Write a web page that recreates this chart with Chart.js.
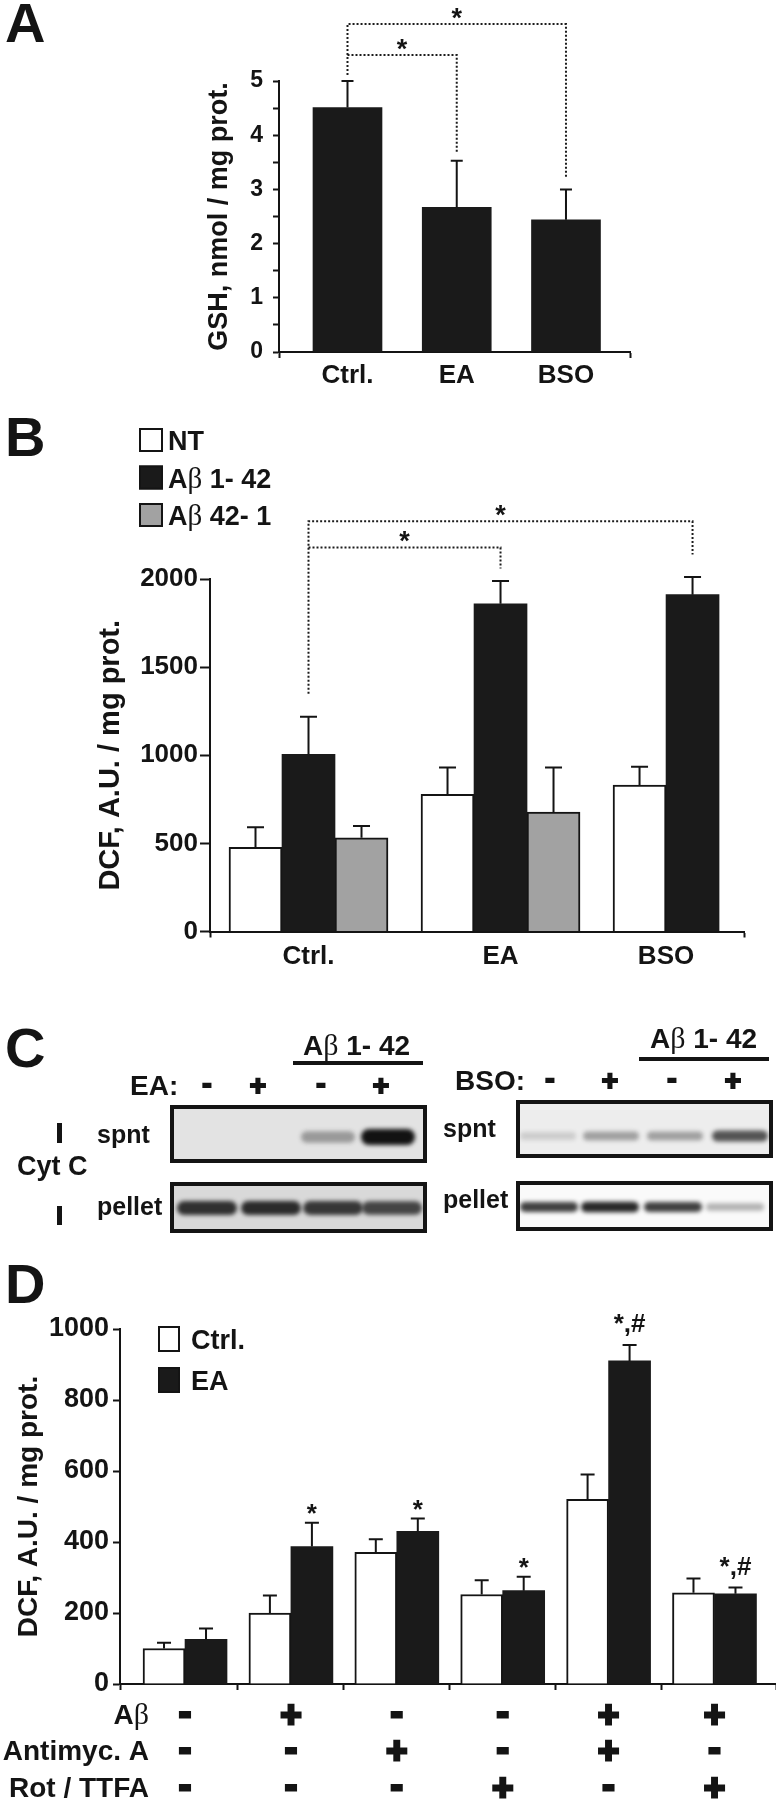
<!DOCTYPE html>
<html>
<head>
<meta charset="utf-8">
<title>GSH depletion, DCF and cytochrome c</title>
<script src="https://cdn.jsdelivr.net/npm/chart.js@4.4.1/dist/chart.umd.min.js"></script>
<style>
  html, body { margin: 0; background: #fff; }
  #fig { position: relative; width: 776px; height: 1800px; overflow: hidden; background: #fff; }
  #fig canvas { position: absolute; left: 0; }
</style>
</head>
<body>
<div id="fig">
  <canvas id="chartA" width="776" height="400" style="top:0px"></canvas>
  <canvas id="chartB" width="776" height="600" style="top:380px"></canvas>
  <canvas id="chartD" width="776" height="560" style="top:1240px"></canvas>
  <canvas id="overlay" width="776" height="1800" style="top:0px"></canvas>
</div>
<script>
// ---- panel A: GSH ----
const catsA = ['Ctrl.', 'EA', 'BSO'];
const gshMean = [4.51, 2.67, 2.44];
const gshErr = [0.49, 0.86, 0.56];
// significance brackets: category from/to, bar level, drop ends (data units)
const bracketsA = [
  {from: 1, to: 3, level: 6.05, dropFrom: 5.11, dropTo: 3.21},
  {from: 1, to: 2, level: 5.48, dropFrom: 5.48, dropTo: 3.69}
];

// ---- panel B: DCF with Abeta ----
const catsB = ['Ctrl.', 'EA', 'BSO'];
const seriesB = ['NT', 'Aβ 1- 42', 'Aβ 42- 1'];
const dcfNT = [478, 778, 831];
const dcfNTerr = [113, 153, 104];
const dcfAb142 = [1005, 1859, 1911];
const dcfAb142err = [213, 130, 100];
const dcfAb421 = [532, 678, null];
const dcfAb421err = [66, 253, null];
const bracketsB = [
  {from: 1, to: 3, level: 2327, dropFrom: 1349, dropTo: 2139},
  {from: 1, to: 2, level: 2179, dropFrom: 2179, dropTo: 2060}
];

// ---- panel C: cyt c blots (relative band intensity per lane) ----
const signsEA = ['-', '+', '-', '+'];
const signsBSO = ['-', '+', '-', '+'];
const spntEA = [0, 0, 0.35, 1];
const pelletEA = [0.85, 0.88, 0.82, 0.75];
const spntBSO = [0.15, 0.35, 0.35, 0.7];
const pelletBSO = [0.8, 0.9, 0.8, 0.3];

// ---- panel D: DCF with inhibitors ----
const seriesD = ['Ctrl.', 'EA'];
const dcfCtrl = [100, 200, 371, 252, 520, 257];
const dcfCtrlErr = [16, 49, 37, 40, 70, 40];
const dcfEA = [126, 387, 430, 263, 910, 254];
const dcfEAerr = [30, 67, 36, 39, 45, 18];
const marksEA = ['', '*', '*', '*', '*,#', '*,#'];
const rowLabels = ['Aβ', 'Antimyc. A', 'Rot / TTFA'];
const rowAb = ['-', '+', '-', '-', '+', '+'];
const rowAntimyc = ['-', '-', '+', '-', '+', '-'];
const rowRotTTFA = ['-', '-', '-', '+', '-', '+'];

const FONT = '"Liberation Sans", Arial, Helvetica, sans-serif';
const SERIF = '"Liberation Serif", "DejaVu Serif", serif';
const INK = '#141414';
const BLACK_BAR = '#1a1a1a';
const GREY_BAR = '#a2a2a2';

Chart.defaults.font.family = FONT;
Chart.defaults.font.weight = 'bold';
Chart.defaults.color = INK;
Chart.defaults.animation = false;

const toXY = arr => arr.map((v, i) => ({x: i + 1, y: v}));

// text with a thin serif beta, like the original figure
function drawRich(ctx, text, x, y, size, align) {
  const parts = text.split(/(β)/).filter(s => s.length);
  const fontFor = p => p === 'β' ? `${Math.round(size * 1.08)}px ${SERIF}` : `bold ${size}px ${FONT}`;
  let w = 0;
  parts.forEach(p => { ctx.font = fontFor(p); w += ctx.measureText(p).width; });
  let cx = align === 'right' ? x - w : align === 'center' ? x - w / 2 : x;
  ctx.textAlign = 'left';
  ctx.textBaseline = 'alphabetic';
  ctx.fillStyle = INK;
  parts.forEach(p => { ctx.font = fontFor(p); ctx.fillText(p, cx, y); cx += ctx.measureText(p).width; });
}

// chunky + / - centred on (cx, cy)
function drawSign(ctx, s, cx, cy, size, stroke) {
  ctx.font = `bold ${size}px ${FONT}`;
  ctx.textAlign = 'center';
  ctx.textBaseline = 'alphabetic';
  const m = ctx.measureText(s);
  const base = cy + (m.actualBoundingBoxAscent - m.actualBoundingBoxDescent) / 2;
  ctx.fillStyle = INK;
  ctx.strokeStyle = INK;
  ctx.lineWidth = stroke;
  ctx.lineJoin = 'miter';
  ctx.strokeText(s, cx, base);
  ctx.fillText(s, cx, base);
}

function xAxis(min, max, inner, height) {
  return {
    type: 'linear', min: min, max: max, offset: false,
    afterBuildTicks: s => { s.ticks = [min, ...inner, max].map(value => ({value})); },
    ticks: {callback: () => '', padding: 0, autoSkip: false, maxRotation: 0},
    grid: {offset: false, drawOnChartArea: false, tickLength: 6, tickWidth: 2, tickColor: INK},
    border: {display: true, color: INK, width: 2},
    afterFit: s => { s.height = height; }
  };
}

function yAxis(max, step, fmt, size, tickLen, pad, width, title, titleSize) {
  return {
    min: 0, max: max,
    ticks: {stepSize: step, callback: fmt, font: {size: size, weight: 'bold'}, padding: pad, autoSkip: false, color: INK},
    grid: {drawOnChartArea: false, tickLength: tickLen, tickWidth: 2, tickColor: INK},
    border: {color: INK, width: 2},
    title: {display: true, text: title, font: {size: titleSize, weight: 'bold'}, padding: 0, color: INK},
    afterFit: s => { s.width = width; }
  };
}

function errorBars(cap) {
  return {
    id: 'errorBars',
    afterDatasetsDraw(chart) {
      const {ctx, scales: {y}} = chart;
      ctx.save();
      ctx.strokeStyle = INK;
      ctx.lineWidth = 2;
      chart.data.datasets.forEach((ds, di) => {
        const meta = chart.getDatasetMeta(di);
        ds.data.forEach((p, i) => {
          const e = ds.errors[i];
          if (p.y == null || e == null) return;
          const bar = meta.data[i];
          const top = y.getPixelForValue(p.y + e);
          ctx.beginPath();
          ctx.moveTo(bar.x, bar.y);
          ctx.lineTo(bar.x, top);
          ctx.moveTo(bar.x - cap / 2, top);
          ctx.lineTo(bar.x + cap / 2, top);
          ctx.stroke();
        });
      });
      ctx.restore();
    }
  };
}

function brackets(items) {
  return {
    id: 'brackets',
    afterDraw(chart) {
      const {ctx, scales: {x, y}} = chart;
      ctx.save();
      items.forEach(b => {
        const x1 = x.getPixelForValue(b.from);
        const x2 = x.getPixelForValue(b.to);
        const yl = y.getPixelForValue(b.level);
        ctx.setLineDash([2, 2]);
        ctx.lineWidth = 2;
        ctx.strokeStyle = '#1c1c1c';
        ctx.beginPath();
        ctx.moveTo(x1, y.getPixelForValue(b.dropFrom));
        ctx.lineTo(x1, yl);
        ctx.lineTo(x2, yl);
        ctx.lineTo(x2, y.getPixelForValue(b.dropTo));
        ctx.stroke();
        ctx.setLineDash([]);
        ctx.font = `bold 27px ${FONT}`;
        ctx.textAlign = 'center';
        ctx.textBaseline = 'alphabetic';
        ctx.fillStyle = INK;
        const m = ctx.measureText('*');
        ctx.fillText('*', (x1 + x2) / 2, yl - 5 - m.actualBoundingBoxDescent);
      });
      ctx.restore();
    }
  };
}

function groupLabels(labels, size, dy) {
  return {
    id: 'groupLabels',
    afterDraw(chart) {
      const {ctx, chartArea} = chart;
      ctx.save();
      ctx.font = `bold ${size}px ${FONT}`;
      ctx.textAlign = 'center';
      ctx.textBaseline = 'alphabetic';
      ctx.fillStyle = INK;
      labels.forEach((lab, i) => {
        const xs = [];
        chart.data.datasets.forEach((ds, di) => {
          if (ds.data[i] && ds.data[i].y != null) xs.push(chart.getDatasetMeta(di).data[i].x);
        });
        const cx = xs.reduce((a, b) => a + b, 0) / xs.length;
        ctx.fillText(lab, cx, chartArea.bottom + dy);
      });
      ctx.restore();
    }
  };
}

function boxLegend(o) {
  return {
    id: 'boxLegend',
    afterDraw(chart) {
      const {ctx} = chart;
      ctx.save();
      chart.data.datasets.forEach((ds, i) => {
        const top = o.top + i * o.step;
        ctx.fillStyle = ds.backgroundColor;
        ctx.fillRect(o.x, top, o.w, o.h);
        ctx.strokeStyle = INK;
        ctx.lineWidth = 2;
        ctx.strokeRect(o.x + 1, top + 1, o.w - 2, o.h - 2);
        drawRich(ctx, ds.label, o.textX, top + o.base, o.size, 'left');
      });
      ctx.restore();
    }
  };
}

function barMarks(size, gap) {
  return {
    id: 'barMarks',
    afterDraw(chart) {
      const {ctx, scales: {y}} = chart;
      ctx.save();
      ctx.font = `bold ${size}px ${FONT}`;
      ctx.textAlign = 'center';
      ctx.textBaseline = 'alphabetic';
      ctx.fillStyle = INK;
      chart.data.datasets.forEach((ds, di) => {
        if (!ds.marks) return;
        const meta = chart.getDatasetMeta(di);
        ds.marks.forEach((t, i) => {
          if (!t) return;
          const top = y.getPixelForValue(ds.data[i].y + ds.errors[i]);
          const m = ctx.measureText(t);
          ctx.fillText(t, meta.data[i].x, top - gap - m.actualBoundingBoxDescent);
        });
      });
      ctx.restore();
    }
  };
}

function signTable(rows, offsets, labelRight) {
  return {
    id: 'signTable',
    afterDraw(chart) {
      const {ctx, chartArea, scales: {x}} = chart;
      ctx.save();
      rows.forEach((row, r) => {
        const cy = chartArea.bottom + offsets[r];
        drawRich(ctx, row.label, chartArea.left + labelRight, cy + 10, 28, 'right');
        row.signs.forEach((s, i) => drawSign(ctx, s, x.getPixelForValue(i + 1), cy, 36, 3));
      });
      ctx.restore();
    }
  };
}

const noUi = {legend: {display: false}, tooltip: {enabled: false}};

// ---------- A ----------
new Chart(document.getElementById('chartA'), {
  type: 'bar',
  data: {datasets: [{
    label: 'GSH', data: toXY(gshMean), errors: gshErr,
    backgroundColor: BLACK_BAR, borderWidth: 0, barThickness: 69
  }]},
  options: {
    responsive: false, events: [],
    layout: {padding: {left: 203, top: 81, right: 146, bottom: 0}},
    plugins: noUi,
    scales: {
      x: xAxis(0.373, 3.586, [], 48),
      y: yAxis(5, 0.5, v => Number.isInteger(v) ? String(v) : '', 23, 6, 10, 76, 'GSH, nmol / mg prot.', 27)
    }
  },
  plugins: [errorBars(12), brackets(bracketsA), groupLabels(catsA, 26, 31)]
});

// ---------- B ----------
new Chart(document.getElementById('chartB'), {
  type: 'bar',
  data: {datasets: [
    {label: seriesB[0], data: toXY(dcfNT), errors: dcfNTerr, backgroundColor: '#ffffff', borderColor: INK, borderWidth: 2, barThickness: 53},
    {label: seriesB[1], data: toXY(dcfAb142), errors: dcfAb142err, backgroundColor: BLACK_BAR, borderColor: INK, borderWidth: 0, barThickness: 53},
    {label: seriesB[2], data: toXY(dcfAb421), errors: dcfAb421err, backgroundColor: GREY_BAR, borderColor: INK, borderWidth: 2, barThickness: 53}
  ]},
  options: {
    responsive: false, events: [],
    layout: {padding: {left: 94, top: 199, right: 32, bottom: 0}},
    plugins: noUi,
    scales: {
      x: xAxis(0.487, 3.268, [], 48.5),
      y: yAxis(2000, 500, v => String(v), 26, 10, 2, 116, 'DCF, A.U. / mg prot.', 29)
    }
  },
  plugins: [errorBars(17), brackets(bracketsB), groupLabels(catsB, 26, 32),
    boxLegend({x: 139, top: 48, step: 37.5, w: 24, h: 24, textX: 168, base: 22, size: 27})]
});

// ---------- D ----------
new Chart(document.getElementById('chartD'), {
  type: 'bar',
  data: {datasets: [
    {label: seriesD[0], data: toXY(dcfCtrl), errors: dcfCtrlErr, backgroundColor: '#ffffff', borderColor: INK, borderWidth: 2, barThickness: 42},
    {label: seriesD[1], data: toXY(dcfEA), errors: dcfEAerr, marks: marksEA, backgroundColor: BLACK_BAR, borderColor: INK, borderWidth: 0, barThickness: 42}
  ]},
  options: {
    responsive: false, events: [],
    layout: {padding: {left: 12, top: 89, right: 0, bottom: 0}},
    plugins: noUi,
    scales: {
      x: xAxis(0.386, 6.581, [1.5, 2.5, 3.5, 4.5, 5.5], 116),
      y: yAxis(1000, 200, v => String(v), 27, 7, 4, 108, 'DCF, A.U. / mg prot.', 28)
    }
  },
  plugins: [errorBars(14), barMarks(26, 8.5),
    boxLegend({x: 158, top: 86, step: 41, w: 22, h: 26, textX: 191, base: 23, size: 27}),
    signTable([
      {label: rowLabels[0], signs: rowAb},
      {label: rowLabels[1], signs: rowAntimyc},
      {label: rowLabels[2], signs: rowRotTTFA}
    ], [30, 66, 103], 29)]
});

// ---------- panel letters and C (blots) ----------
const ov = document.getElementById('overlay').getContext('2d');

function plainText(ctx, t, x, y, size, align) {
  ctx.font = `bold ${size}px ${FONT}`;
  ctx.textAlign = align || 'left';
  ctx.textBaseline = 'alphabetic';
  ctx.fillStyle = INK;
  ctx.fillText(t, x, y);
}

function drawBlot(ctx, box, bg, levels, centers, bandW, bandY, bandH) {
  ctx.save();
  ctx.fillStyle = bg;
  ctx.fillRect(box.x, box.y, box.w, box.h);
  ctx.beginPath();
  ctx.rect(box.x + 3, box.y + 3, box.w - 6, box.h - 6);
  ctx.clip();
  ctx.filter = 'blur(2.2px)';
  levels.forEach((a, i) => {
    if (a <= 0) return;
    const h = bandH * (0.55 + 0.45 * a);
    ctx.fillStyle = `rgba(18,18,18,${Math.min(1, a)})`;
    ctx.beginPath();
    ctx.roundRect(centers[i] - bandW / 2, bandY - h / 2, bandW, h, h / 2);
    ctx.fill();
  });
  ctx.restore();
  ctx.save();
  ctx.strokeStyle = INK;
  ctx.lineWidth = 4;
  ctx.strokeRect(box.x + 2, box.y + 2, box.w - 4, box.h - 4);
  ctx.restore();
}

['A', 'B', 'C', 'D'].forEach((l, i) => plainText(ov, l, 5, [42, 456, 1067, 1303][i], 56));

// left blot (EA)
drawRich(ov, 'Aβ 1- 42', 303, 1055, 28, 'left');
ov.fillStyle = INK;
ov.fillRect(293, 1061, 130, 4);
plainText(ov, 'EA:', 130, 1095, 28);
signsEA.forEach((s, i) => drawSign(ov, s, [207, 258, 321, 381][i], 1085, 28, 2));
drawBlot(ov, {x: 170, y: 1105, w: 257, h: 58}, '#e3e3e3', spntEA, [207, 270, 328, 388], 54, 1137, 16);
drawBlot(ov, {x: 170, y: 1182, w: 257, h: 51}, '#d9d9d9', pelletEA, [207, 271, 333, 392], 60, 1208, 15);
plainText(ov, 'spnt', 97, 1143, 25);
plainText(ov, 'pellet', 97, 1215, 25);
plainText(ov, 'Cyt C', 17, 1175, 27);
ov.fillStyle = INK;
ov.fillRect(57, 1123, 5, 20);
ov.fillRect(57, 1206, 5, 19);

// right blot (BSO)
drawRich(ov, 'Aβ 1- 42', 650, 1048, 28, 'left');
ov.fillStyle = INK;
ov.fillRect(639, 1057, 130, 4);
plainText(ov, 'BSO:', 455, 1090, 28);
signsBSO.forEach((s, i) => drawSign(ov, s, [550, 610, 672, 733][i], 1080, 28, 2));
drawBlot(ov, {x: 516, y: 1100, w: 257, h: 58}, '#ededed', spntBSO, [548, 611, 675, 740], 56, 1136, 13);
drawBlot(ov, {x: 516, y: 1181, w: 257, h: 50}, '#fafafa', pelletBSO, [549, 610, 673, 735], 58, 1207, 11);
plainText(ov, 'spnt', 443, 1137, 25);
plainText(ov, 'pellet', 443, 1208, 25);
</script>
</body>
</html>
